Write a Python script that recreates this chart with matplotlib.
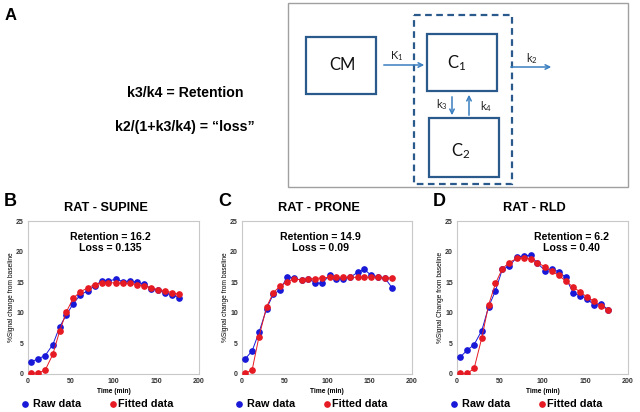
import numpy as np
import matplotlib
matplotlib.use("Agg")
import matplotlib.pyplot as plt
from matplotlib.patches import Rectangle

plt.rcParams['font.family'] = ['Liberation Sans', 'DejaVu Sans']
plt.rcParams['mathtext.fontset'] = 'custom'
plt.rcParams['mathtext.rm'] = 'Lato'
plt.rcParams['mathtext.it'] = 'Lato'

# time points (min)
t = [4, 12, 20, 29, 37, 45, 53, 61, 70, 78, 86, 94, 103, 111, 119, 127, 136, 144, 152, 160, 168, 177]

supine_raw = [2.0, 2.5, 3.0, 4.8, 7.7, 9.7, 11.5, 12.9, 13.6, 14.4, 15.2, 15.2, 15.5, 15.1, 15.2, 15.0,
              14.7, 13.9, 13.7, 13.3, 12.9, 12.5]
supine_fit = [0.1, 0.2, 0.6, 3.2, 7.0, 10.2, 12.4, 13.4, 14.1, 14.6, 14.9, 14.9, 14.9, 14.8, 14.8, 14.6,
              14.4, 14.1, 13.8, 13.6, 13.3, 13.0]
prone_raw = [2.5, 3.8, 6.8, 10.7, 13.1, 13.7, 15.9, 15.7, 15.3, 15.6, 14.9, 14.8, 16.1, 15.5, 15.6, 15.8,
             16.6, 17.1, 16.1, 15.9, 15.7, 14.0]
prone_fit = [0.1, 0.7, 6.1, 11.0, 13.3, 14.4, 15.1, 15.5, 15.4, 15.5, 15.6, 15.7, 15.8, 15.8, 15.8, 15.8,
             15.8, 15.8, 15.8, 15.8, 15.7, 15.7]
rld_raw = [2.8, 3.9, 4.8, 7.1, 11.0, 13.6, 17.1, 17.6, 19.1, 19.3, 19.4, 18.1, 16.9, 17.2, 16.7, 15.8,
           13.2, 12.8, 12.3, 11.3, 11.5, 10.5]
rld_fit = [0.1, 0.1, 0.9, 5.9, 11.3, 14.8, 17.2, 18.2, 18.9, 19.0, 18.8, 18.2, 17.5, 16.8, 16.1, 15.2,
           14.2, 13.4, 12.6, 11.9, 11.1, 10.5]

letters = ['B', 'C', 'D']
titles = ['RAT - SUPINE', 'RAT - PRONE', 'RAT - RLD']
ret_txt = ['Retention = 16.2\nLoss = 0.135', 'Retention = 14.9\nLoss = 0.09', 'Retention = 6.2\nLoss = 0.40']
ylabels = ['%Signal change from baseline', '%Signal change from baseline', '%Signal Change from baseline']
raws = [supine_raw, prone_raw, rld_raw]
fits = [supine_fit, prone_fit, rld_fit]

W, H = 640, 412
fig = plt.figure(figsize=(6.4, 4.12), dpi=100)


def rect(x0, y0, x1, y1):
    return [x0 / W, 1 - y1 / H, (x1 - x0) / W, (y1 - y0) / H]


blue = '#1818d8'
red = '#e61a22'

# panel A overlay in pixel coords
ov = fig.add_axes([0, 0, 1, 1])
ov.set_xlim(0, W)
ov.set_ylim(H, 0)
ov.axis('off')
ov.text(5, 15, 'A', fontsize=12, fontweight='bold', va='center', ha='left')
ov.text(185, 93, 'k3/k4 = Retention', fontsize=10.2, fontweight='bold', ha='center', va='center')
ov.text(185, 127, 'k2/(1+k3/k4) = \u201closs\u201d', fontsize=10.2, fontweight='bold', ha='center', va='center')

dblue = '#2a5a8c'
ablue = '#3a7fc0'
ov.add_patch(Rectangle((288, 3), 340, 184, fill=False, ec='#a0a0a0', lw=1))
ov.add_patch(Rectangle((306, 37), 70, 57, fill=False, ec=dblue, lw=1.6))
ov.add_patch(Rectangle((427, 34), 70, 57, fill=False, ec=dblue, lw=1.6))
ov.add_patch(Rectangle((429, 118), 70, 59, fill=False, ec=dblue, lw=1.6))
ov.add_patch(Rectangle((414, 15), 98, 169, fill=False, ec=dblue, lw=1.6, ls=(0, (3, 2))))
dfont = 'Lato'
ov.text(342, 65, 'CM', fontsize=12, family=dfont, ha='center', va='center', color='#111111')
ov.text(457, 63, r'C$_\mathregular{1}$', fontsize=12, family=dfont, ha='center', va='center', color='#111111')
ov.text(461, 151, r'C$_\mathregular{2}$', fontsize=12, family=dfont, ha='center', va='center', color='#111111')
arw = dict(arrowstyle='->', color=ablue, lw=1.1, mutation_scale=8)
ov.annotate('', xy=(427, 65), xytext=(381, 65), arrowprops=arw)
ov.annotate('', xy=(554, 67), xytext=(508, 67), arrowprops=arw)
ov.annotate('', xy=(452, 118), xytext=(452, 94), arrowprops=arw)
ov.annotate('', xy=(469, 92), xytext=(469, 118), arrowprops=arw)
ov.text(397, 56, r'K$_\mathregular{1}$', fontsize=8, family=dfont, ha='center', va='center', color='#222222')
ov.text(532, 59, r'k$_\mathregular{2}$', fontsize=8, family=dfont, ha='center', va='center', color='#222222')
ov.text(442, 105, r'k$_\mathregular{3}$', fontsize=8, family=dfont, ha='center', va='center', color='#222222')
ov.text(486, 107, r'k$_\mathregular{4}$', fontsize=8, family=dfont, ha='center', va='center', color='#222222')

boxes = [(28, 221, 199, 374), (242, 221, 412, 374), (457, 221, 628, 374)]
ret_x = [0.48, 0.46, 0.67]

for i in range(3):
    x0, y0, x1, y1 = boxes[i]
    ax = fig.add_axes(rect(x0, y0, x1, y1))
    ax.plot(t, raws[i], '-o', color=blue, ms=3.8, lw=0.7, zorder=3)
    ax.plot(t, fits[i], '-o', color=red, ms=3.8, lw=0.7, zorder=4)
    ax.set_xlim(0, 200)
    ax.set_ylim(0, 25)
    ax.set_xticks([0, 50, 100, 150, 200])
    ax.set_yticks([0, 5, 10, 15, 20, 25])
    ax.tick_params(length=0, labelsize=5, pad=3)
    for lab in ax.get_xticklabels() + ax.get_yticklabels():
        lab.set_fontweight('bold')
        lab.set_color('#333333')
    for s in ax.spines.values():
        s.set_color('#c8c8c8')
        s.set_linewidth(0.8)
    ax.set_xlabel('Time (min)', fontsize=4.8, fontweight='bold', labelpad=2)
    ax.set_ylabel(ylabels[i], fontsize=4.8, labelpad=1)
    ax.text(ret_x[i], 0.86, ret_txt[i], transform=ax.transAxes, ha='center', va='center',
            fontsize=7.6, fontweight='bold', linespacing=1.2)
    ov.text(x0 - 24, 201, letters[i], fontsize=13, fontweight='bold', ha='left', va='center')
    ov.text((x0 + x1) / 2 - 8, 208, titles[i], fontsize=9.2, fontweight='bold', ha='center', va='center')
    # legend row
    ov.plot([x0 - 3], [404], 'o', color=blue, ms=3.8)
    ov.text(x0 + 5, 404, 'Raw data', fontsize=7.8, fontweight='bold', ha='left', va='center')
    ov.plot([x0 + 85], [404], 'o', color=red, ms=3.8)
    ov.text(x0 + 90, 404, 'Fitted data', fontsize=7.8, fontweight='bold', ha='left', va='center')

fig.savefig('out.png', dpi=100)
